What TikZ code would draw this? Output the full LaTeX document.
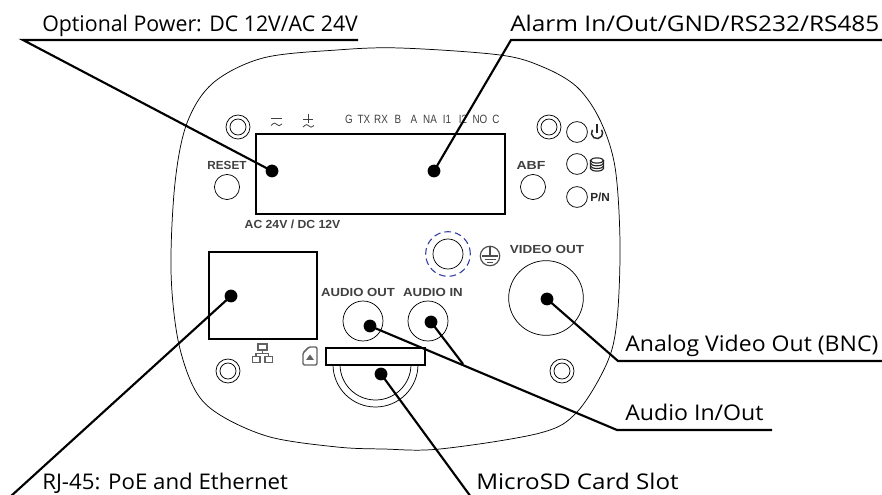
\documentclass[tikz,border=0pt]{standalone}
\usepackage{graphicx}
\usepackage{fontspec}
\setmainfont{Open Sans}
\newfontfamily\armfont{Liberation Sans}
\newfontfamily\narfont[FakeStretch=0.82]{Liberation Sans}
\definecolor{pangrey}{gray}{0.25}
\definecolor{icongrey}{gray}{0.38}
\definecolor{dashblue}{RGB}{50,60,165}
\tikzset{
  x=0.75pt,y=-0.75pt,
  thinln/.style={line width=0.55pt,black},
  leader/.style={line width=1.6pt,black},
  slotbox/.style={draw,line width=1.5pt,fill=white,inner sep=0,rectangle},
  dot/.style={circle,fill=black,inner sep=0,minimum size=9.6pt},
  lab/.style={anchor=base west,font=\fontsize{16.2pt}{18pt}\selectfont,inner sep=0},
  pan/.style={font=\armfont\bfseries\fontsize{8.8pt}{10pt}\selectfont,text=pangrey,inner sep=0},
  term/.style={font=\narfont\fontsize{9pt}{10pt}\selectfont,text=pangrey,inner sep=0},
  hole/.style={circle,draw,line width=0.55pt,inner sep=0},
  icon/.style={line width=1.1pt,icongrey},
  iconb/.style={line width=1.1pt,black!85},
  symb/.style={line width=0.6pt,pangrey},
}
\begin{document}
\begin{tikzpicture}
\useasboundingbox (0,0) rectangle (882,495);
% body outline
\draw[thinln] plot[smooth cycle,tension=0.55] coordinates {(400,48) (500,55) (543,67) (577,87) (600,120) (615,167) (620,243) (617,320) (607,363) (577,412) (540,433) (440,449) (383,449) (337,447) (270,437) (220,415) (195,390) (178,340) (171,270) (175,183) (187,123) (213,83) (263,58) (337,50)};
% screws
\foreach \n/\x/\y in {sa/238/127,sb/549/127,sc/228/371,sd/562/371}{
  \node[hole,minimum size=18pt] (\n) at (\x,\y) {};
  \node[hole,minimum size=12pt] (\n i) at (\x,\y) {};
}
% boxes
\node[slotbox,minimum width=186.8pt,minimum height=60pt] (termbox) at (380.5,174) {};
\node[slotbox,minimum width=81pt,minimum height=65.2pt] (rjbox) at (263,295.5) {};
% holes
\node[hole,minimum size=18.8pt] (reset) at (227,187) {};
\node[hole,minimum size=18.8pt] (abf) at (533,187) {};
\node[hole,minimum size=15.6pt] (led1) at (577,132) {};
\node[hole,minimum size=15.6pt] (led2) at (577,164) {};
\node[hole,minimum size=15.6pt] (led3) at (577,197) {};
\node[hole,minimum size=22.5pt] (gnd) at (448,254) {};
\node[circle,draw=dashblue,dash pattern=on 5pt off 3pt,line width=0.8pt,inner sep=0,minimum size=33.5pt] (gndd) at (448,254) {};
\node[hole,minimum size=56pt] (video) at (546,298) {};
\node[hole,minimum size=30pt] (aout) at (363,321) {};
\node[hole,minimum size=30pt] (ain) at (428,321) {};
% panel labels
\node[pan] (lreset) at (227,165) {RESET};
\node[pan] (labf) at (531,165) {\scalebox{1.2}[1]{ABF}};
\node[pan] (lac) at (292.5,224) {\scalebox{1.04}[1]{AC 24V / DC 12V}};
\node[pan] (lvid) at (547,249) {\scalebox{1.15}[1]{VIDEO OUT}};
\node[pan] (laout) at (358,292) {\scalebox{1.12}[1]{AUDIO OUT}};
\node[pan] (lain) at (433,292) {\scalebox{1.13}[1]{AUDIO IN}};
\node[pan,anchor=west,text=black!85] (lpn) at (590,197) {P/N};
\foreach \n/\t/\x in {ta/G/349,tb/TX/364,tc/RX/381,td/B/398,te/A/414,tf/NA/430,tg/I1/447,th/I2/463,ti/NO/480,tj/C/496}
  \node[term] (\n) at (\x,119) {\t};
% supply symbols
\draw[symb] (271,118) -- (282,118);
\draw[symb] (271,125.5) .. controls (274,122.5) and (276,122.5) .. (277,124.5) .. controls (278,126.5) and (280,126) .. (282,124);
\draw[symb] (303,119) -- (313,119) (308,114.5) -- (308,123.5);
\draw[symb] (303,127) .. controls (306,124) and (308,124) .. (309,126) .. controls (310,128) and (312,127.5) .. (314,125.5);
% power icon
\draw[iconb] (592.4,129.8) arc[start angle=215,end angle=-35,radius=5.6];
\draw[iconb] (597,124.5) -- (597,133);
% database icon
\draw[iconb,line width=0.85pt] (597,160.5) ellipse[x radius=6.5,y radius=2.6];
\draw[iconb,line width=0.85pt] (590.5,160.5) -- (590.5,168.5) arc[start angle=180,end angle=0,x radius=6.5,y radius=2.6] -- (603.5,160.5);
\draw[iconb,line width=0.85pt] (590.5,163.2) arc[start angle=180,end angle=0,x radius=6.5,y radius=2.6];
\draw[iconb,line width=0.85pt] (590.5,165.9) arc[start angle=180,end angle=0,x radius=6.5,y radius=2.6];
% earth
\node[circle,draw=black!70,line width=0.9pt,inner sep=0,minimum size=14.6pt] (earth) at (490,256) {};
\draw[black!70,line width=0.9pt] (earth.north) -- (490,256) (482,256) -- (498,256) (484.5,259.5) -- (495.5,259.5) (487,262.5) -- (493,262.5);
% network icon
\draw[icon] (258,344) rectangle (267,350) (262.5,350) -- (262.5,353.3) (256,356) -- (256,353.3) -- (268.5,353.3) -- (268.5,356)
  (252.5,356.3) rectangle (260,362.7) (265,356.3) rectangle (272.3,362.7);
% sd icon
\draw[icon,rounded corners=1pt] (303,353) -- (309,347) -- (317,347) -- (317,365) -- (303,365) -- cycle;
\fill[icongrey] (306,360) -- (310,354.5) -- (314,360) -- cycle;
% SD slot
\draw[thinln] (333,364.5) arc[start angle=180,end angle=0,radius=42.5];
\draw[thinln] (340,364.5) arc[start angle=180,end angle=0,radius=35.5];
\node[slotbox,minimum width=74.2pt,minimum height=12.6pt] (sd) at (375.5,356.5) {};
% dots
\node[dot] (d1) at (272,171) {};
\node[dot] (d2) at (434,171) {};
\node[dot] (d3) at (547,299) {};
\node[dot] (d4) at (370,326) {};
\node[dot] (d5) at (431,322) {};
\node[dot] (d6) at (231,296) {};
\node[dot] (d7) at (381,374) {};
% leaders
\coordinate (pa) at (23,40); \coordinate (pb) at (358,40);
\coordinate (qa) at (511,40); \coordinate (qb) at (882,40);
\coordinate (ra) at (618,361); \coordinate (rb) at (882,361);
\coordinate (sa1) at (617,430); \coordinate (sb1) at (772,430);
\coordinate (ea) at (10,497); \coordinate (ma) at (471,497);
\coordinate (aj) at (463,364);
\draw[leader] (pb) -- (pa) -- (d1.center);
\draw[leader] (qb) -- (qa) -- (d2.center);
\draw[leader] (rb) -- (ra) -- (d3.center);
\draw[leader] (sb1) -- (sa1) -- (d4.center);
\draw[leader] (aj) -- (d5.center);
\draw[leader] (ea) -- (d6.center);
\draw[leader] (ma) -- (d7.center);
% text labels
\node[lab] (t1) at (42,32) {\scalebox{0.9875}[1]{Optional Power: DC 12V/AC 24V}};
\node[lab] (t2) at (510,32) {\scalebox{1.13}[1]{Alarm In/Out/GND/RS232/RS485}};
\node[lab] (t3) at (625,352) {\scalebox{1.067}[1]{Analog Video Out (BNC)}};
\node[lab] (t4) at (625,421) {\scalebox{1.07}[1]{Audio In/Out}};
\node[lab] (t5) at (42,489) {\scalebox{1.03}[1]{RJ-45: PoE and Ethernet}};
\node[lab] (t6) at (476,489) {\scalebox{1.12}[1]{MicroSD Card Slot}};
\end{tikzpicture}
\end{document}
